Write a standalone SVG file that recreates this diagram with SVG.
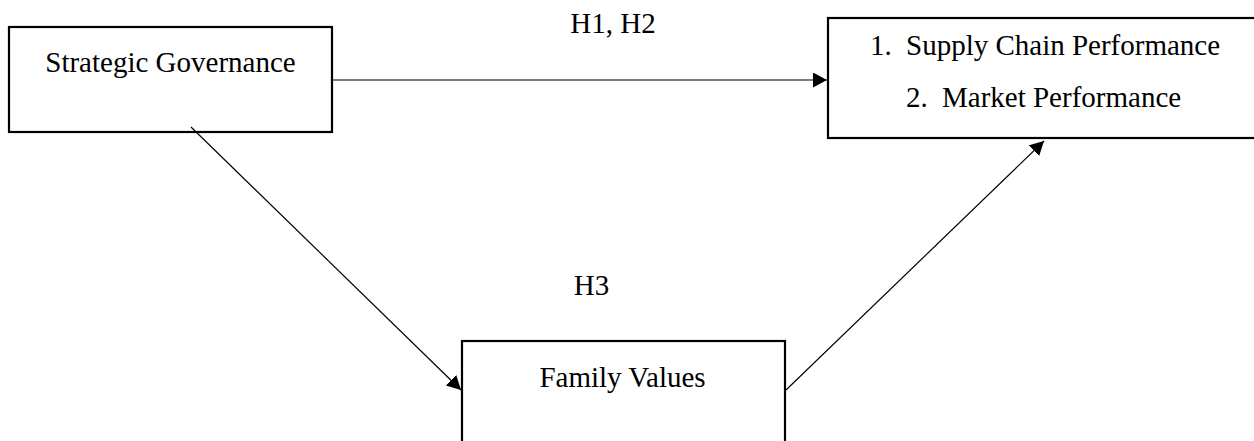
<svg xmlns="http://www.w3.org/2000/svg" width="1254" height="441" viewBox="0 0 1254 441">
<style>
.box{fill:#fff;stroke:#000;stroke-width:2.2}
.t{font-family:"Liberation Serif","Times New Roman",serif;font-size:29px;fill:#000}
.c{stroke:#000;stroke-width:1.2;fill:none}
</style>
<defs>
<marker id="ah" markerUnits="userSpaceOnUse" markerWidth="16" markerHeight="16" refX="14" refY="7.5" orient="auto">
<path d="M0,0 L14,7.5 L0,15 z" fill="#000"/>
</marker>
</defs>
<rect width="1254" height="441" fill="#fff"/>
<g id="node-strategic-governance">
<rect class="box" x="9" y="27" width="323" height="105"/>
<text class="t" x="170.5" y="72" text-anchor="middle">Strategic Governance</text>
</g>
<g id="node-performance">
<rect class="box" x="828" y="18" width="440" height="120"/>
<text class="t" y="55"><tspan x="870">1.</tspan><tspan x="906">Supply Chain Performance</tspan></text>
<text class="t" y="107"><tspan x="906">2.</tspan><tspan x="942">Market Performance</tspan></text>
</g>
<g id="node-family-values">
<rect class="box" x="462" y="341" width="323" height="130"/>
<text class="t" x="622.5" y="387" text-anchor="middle">Family Values</text>
</g>
<g id="labels">
<text class="t" x="613" y="33" text-anchor="middle">H1, H2</text>
<text class="t" x="591.5" y="295" text-anchor="middle">H3</text>
</g>
<g id="connectors">
<line class="c" x1="333" y1="80" x2="827" y2="80" marker-end="url(#ah)"/>
<line class="c" x1="191" y1="127" x2="461" y2="390" marker-end="url(#ah)"/>
<line class="c" x1="786" y1="390" x2="1044" y2="141" marker-end="url(#ah)"/>
</g>
</svg>
